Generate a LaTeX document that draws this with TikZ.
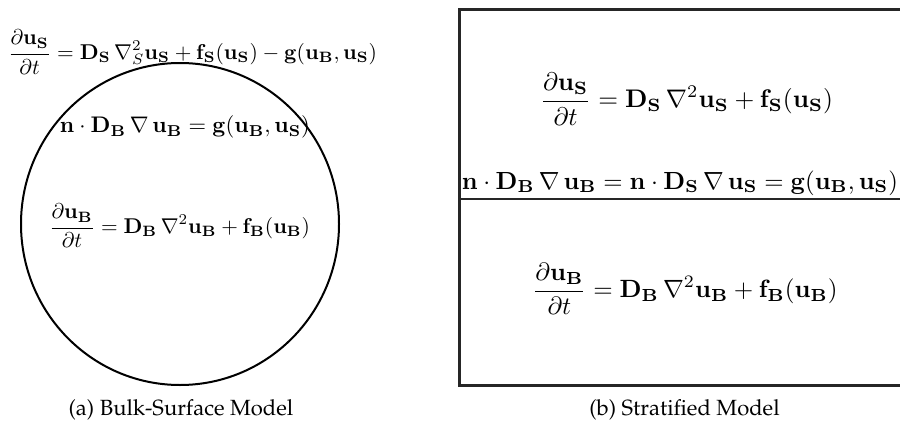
\documentclass[tikz,border=0pt]{standalone}
\usepackage{amsmath}
\usepackage{graphicx}
\newcommand{\bu}[1]{\mathbf{u}_{\mathbf{#1}}}
\newcommand{\bD}[1]{\mathbf{D}_{\mathbf{#1}}}
\newcommand{\bff}[1]{\mathbf{f}_{\mathbf{#1}}}
\newcommand{\capfont}{\fontencoding{T1}\fontfamily{ppl}\fontsize{11}{13}\selectfont}
\begin{document}
\begin{tikzpicture}[x=0.5pt,y=-0.5pt,
  eq/.style={inner sep=0pt, outer sep=0pt, anchor=center},
  captext/.style={inner sep=0pt, anchor=center, font=\capfont},
  boxline/.style={line width=1.5pt, draw=black!85},
  midline/.style={line width=1.2pt, draw=black!85}]
\useasboundingbox (0,0) rectangle (900,423);

% (a) Bulk-surface model
\draw[line width=1pt] (180,224) ellipse [x radius=159, y radius=161];
\node[eq] (sa) at (192.5,52) {\resizebox{184.5pt}{!}{$\displaystyle \frac{\partial \bu{S}}{\partial t} = \bD{S}\,\nabla_S^2\bu{S} + \bff{S}(\bu{S}) - \mathbf{g}(\bu{B},\bu{S})$}};
\node[eq] (ia) at (185,127) {\resizebox{125pt}{!}{$\mathbf{n}\cdot\bD{B}\,\nabla\,\bu{B} = \mathbf{g}(\bu{B},\bu{S})$}};
\node[eq] (ba) at (179.5,226) {\resizebox{130.5pt}{!}{$\displaystyle \frac{\partial \bu{B}}{\partial t} = \bD{B}\,\nabla^2\bu{B} + \bff{B}(\bu{B})$}};
\node[captext] (capa) at (181,410) {(a) Bulk-Surface Model};

% (b) Stratified model
\coordinate (tl) at (459,9);
\coordinate (tr) at (900,9);
\coordinate (bl) at (459,385);
\coordinate (br) at (900,385);
\coordinate (ml) at (459,199);
\coordinate (mr) at (900,199);
\draw[boxline] (tr) -- (tl) -- (bl) -- (br);
\draw[midline] (ml) -- (mr);
\node[eq] (sb) at (686.5,99) {\resizebox{146.5pt}{!}{$\displaystyle \frac{\partial \bu{S}}{\partial t} = \bD{S}\,\nabla^2\bu{S} + \bff{S}(\bu{S})$}};
\node[eq] (ib) at (680,183) {\resizebox{218pt}{!}{$\mathbf{n}\cdot\bD{B}\,\nabla\,\bu{B} = \mathbf{n}\cdot\bD{S}\,\nabla\,\bu{S} = \mathbf{g}(\bu{B},\bu{S})$}};
\node[eq] (bb) at (685,289) {\resizebox{152.5pt}{!}{$\displaystyle \frac{\partial \bu{B}}{\partial t} = \bD{B}\,\nabla^2\bu{B} + \bff{B}(\bu{B})$}};
\node[captext] (capb) at (684.5,410) {(b) Stratified Model};
\end{tikzpicture}
\end{document}
